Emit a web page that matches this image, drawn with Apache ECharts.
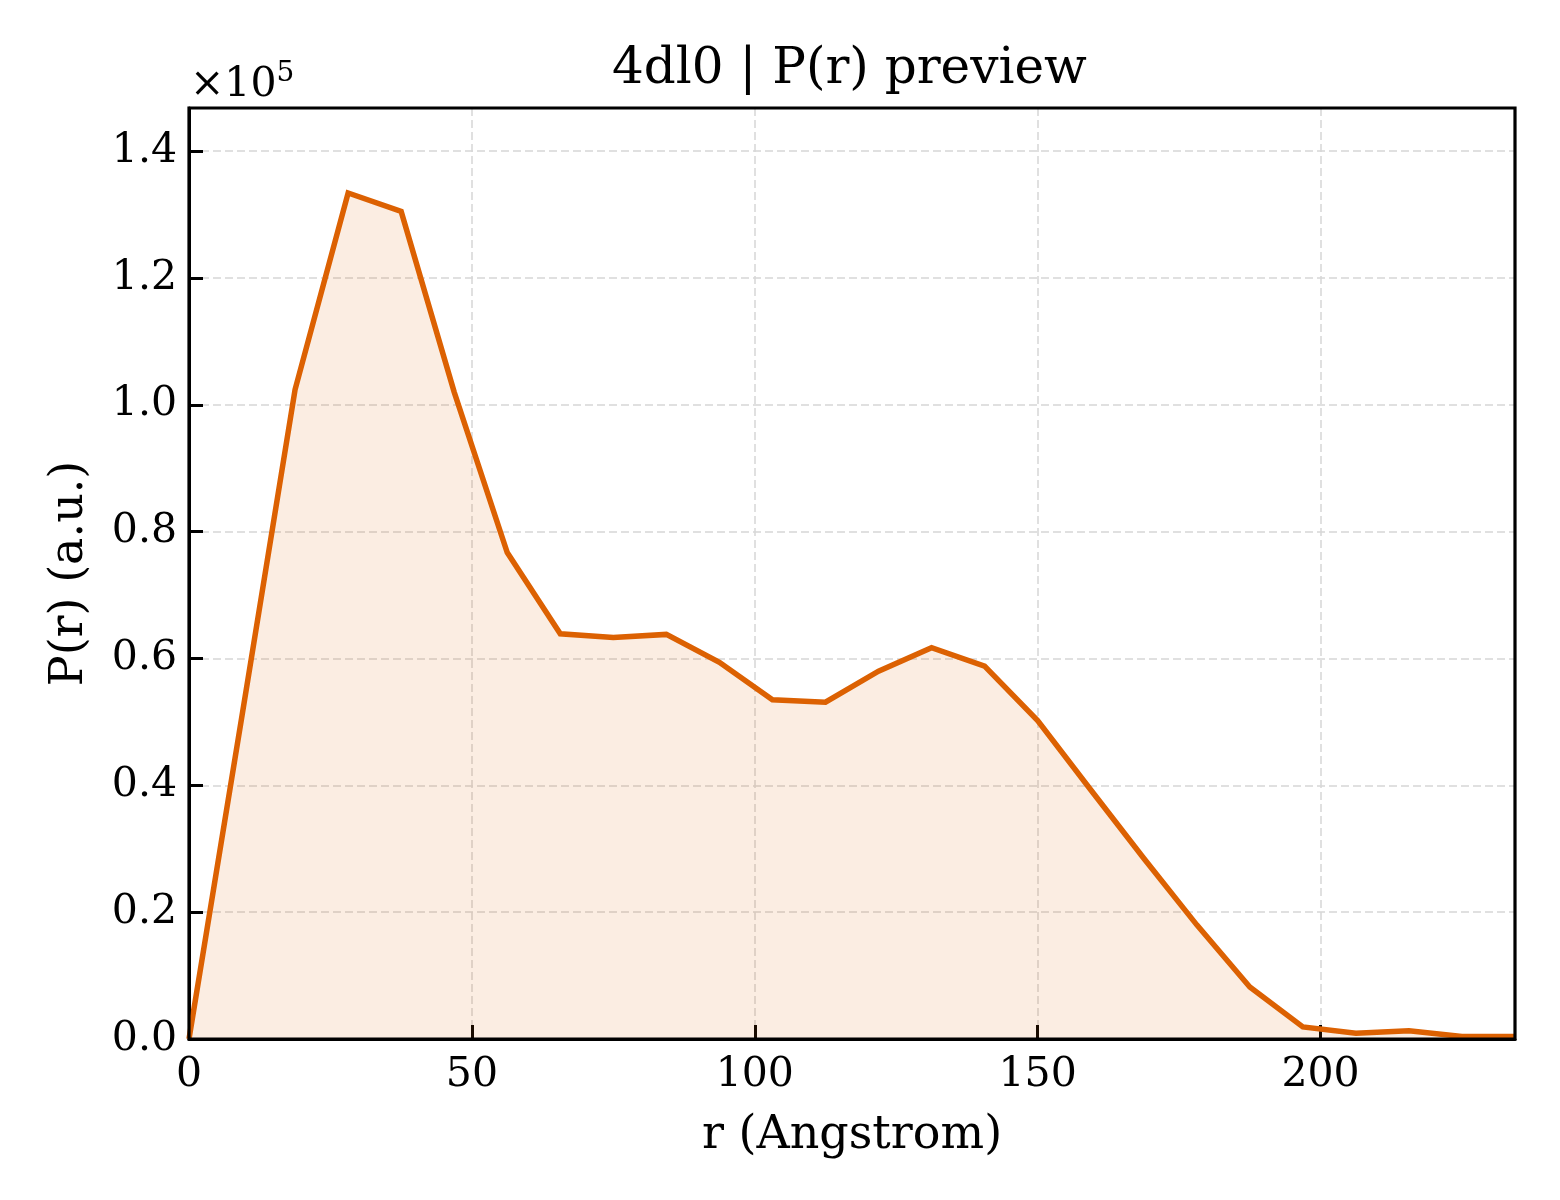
<!DOCTYPE html>
<html>
<head>
<meta charset="utf-8">
<title>4dl0 | P(r) preview</title>
<script src="https://cdn.jsdelivr.net/npm/echarts@6/dist/echarts.min.js"></script>
<style>
html,body{margin:0;padding:0;background:#fff;}
#chart{width:1560px;height:1200px;}
</style>
</head>
<body>
<div id="chart"></div>
<script>
var rValues = [0, 9.375, 18.75, 28.125, 37.5, 46.875, 56.25, 65.625, 75, 84.375, 93.75, 103.125, 112.5,
	121.875, 131.25, 140.625, 150, 159.375, 168.75, 178.125, 187.5, 196.875, 206.25, 215.625, 225, 234.375];
var prValues = [0, 51000, 102400, 133400, 130500, 102000, 76700, 63900, 63300, 63800, 59400, 53500, 53100,
	58000, 61700, 58800, 50200, 39300, 28500, 18000, 8200, 1900, 900, 1300, 400, 400];
var xTicks = [0, 50, 100, 150, 200];
var yTicks = [0, 0.2, 0.4, 0.6, 0.8, 1.0, 1.2, 1.4]; // x 1e5

var serif = 'DejaVu Serif';
var lineColor = '#dc6102';

var pts = [];
for (var i = 0; i < rValues.length; i++) {
	pts.push([rValues[i], prValues[i]]);
}

var myChart = echarts.init(document.getElementById('chart'));
var option = {
	backgroundColor: '#fff',
	animation: false,
	textStyle: {fontFamily: serif},
	grid: {
		left: 189,
		right: 45,
		top: 108,
		bottom: 161,
		show: false
	},
	graphic: [
		{
			type: 'text',
			left: 612, top: 45,
			style: {text: '4dl0 | P(r) preview', fontFamily: serif, fontSize: 50, fill: '#000', width: 500, align: 'center'}
		},
		{
			type: 'text',
			left: 190, top: 60,
			style: {
				text: '×10{sup|5}',
				fontFamily: serif, fontSize: 41, fill: '#000',
				rich: {sup: {fontFamily: serif, fontSize: 28, verticalAlign: 'top', padding: [0, 0, 22, 0]}}
			}
		},
		{
			// frame round the plot area (matplotlib spines)
			type: 'rect',
			z: 100,
			shape: {x: 189, y: 108, width: 1326, height: 931},
			style: {fill: 'none', stroke: '#000', lineWidth: 3.2}
		}
	],
	xAxis: {
		type: 'value',
		min: 0,
		max: 234.375,
		interval: 50,
		name: 'r (Angstrom)',
		nameLocation: 'middle',
		nameGap: 74,
		nameTextStyle: {fontFamily: serif, fontSize: 46, color: '#000'},
		axisLine: {show: true, onZero: false, lineStyle: {color: '#000', width: 3}},
		axisTick: {show: true, inside: true, length: 14, lineStyle: {color: '#000', width: 3}},
		axisLabel: {
			show: true, margin: 16, fontFamily: serif, fontSize: 41, color: '#000',
			showMaxLabel: false,
			formatter: function (v) { return xTicks.indexOf(v) >= 0 ? String(v) : ''; }
		},
		splitLine: {show: true, showMinLine: false, showMaxLine: false,
			lineStyle: {color: '#d6d6d6', width: 1.5, type: [8, 4]}}
	},
	yAxis: {
		type: 'value',
		min: 0,
		max: 146800,
		interval: 20000,
		name: 'P(r) (a.u.)',
		nameLocation: 'middle',
		nameGap: 96,
		nameRotate: 90,
		nameTextStyle: {fontFamily: serif, fontSize: 46, color: '#000'},
		axisLine: {show: true, onZero: false, lineStyle: {color: '#000', width: 3}},
		axisTick: {show: true, inside: true, length: 14, lineStyle: {color: '#000', width: 3}},
		axisLabel: {
			show: true, margin: 12, fontFamily: serif, fontSize: 41, color: '#000',
			showMaxLabel: false,
			formatter: function (v) { return (v / 1e5).toFixed(1); }
		},
		splitLine: {show: true, showMinLine: false, showMaxLine: false,
			lineStyle: {color: '#d6d6d6', width: 1.5, type: [8, 4]}}
	},
	series: [
		{
			name: 'P(r)',
			type: 'line',
			data: pts,
			showSymbol: false,
			smooth: false,
			clip: true,
			lineStyle: {color: lineColor, width: 5.5, join: 'miter'},
			areaStyle: {color: 'rgba(220,97,2,0.16)', origin: 'start'},
			z: 3
		}
	]
};

myChart.setOption(option);
</script>
</body>
</html>
